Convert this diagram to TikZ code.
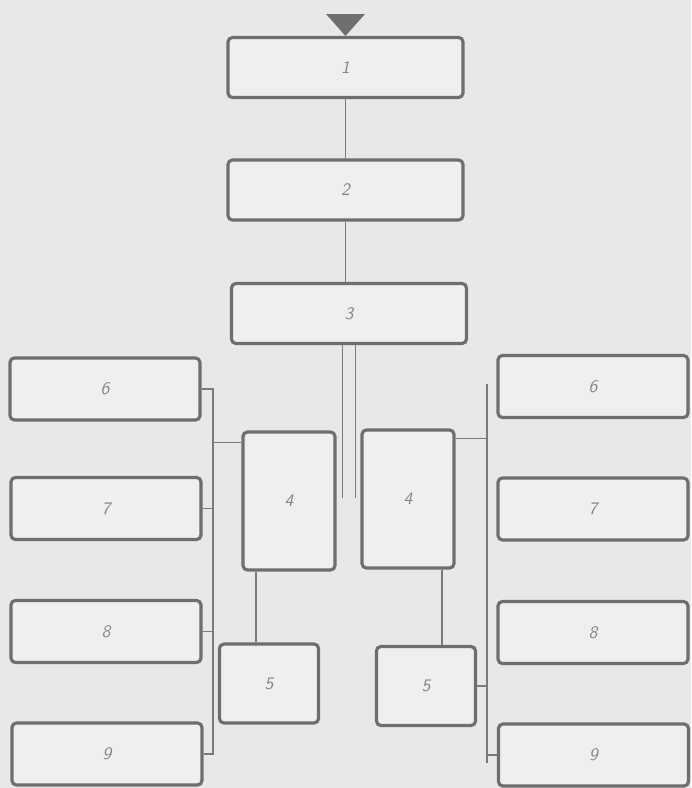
\documentclass[tikz,border=0pt]{standalone}
\usepackage{tikz}
\usetikzlibrary{positioning,calc}
\definecolor{frame}{HTML}{6E6E6E}
\definecolor{paper}{HTML}{E8E8E8}
\definecolor{wire}{HTML}{7A7A7A}
\definecolor{digit}{HTML}{858585}

\begin{document}
\begin{tikzpicture}[x=0.02cm,y=-0.02cm,
    every node/.style={font=\sffamily\itshape,text=digit},
    blk/.style={draw=frame,line width=1.8pt,rounded corners=2.5pt,fill=paper!70!white,inner sep=0pt},
    wide/.style={blk,minimum width=4.7cm,minimum height=1.2cm},
    side/.style={blk,minimum width=3.8cm,minimum height=1.24cm},
    tall/.style={blk,minimum width=1.84cm,minimum height=2.76cm},
    small/.style={blk,minimum width=1.98cm,minimum height=1.58cm},
    wire/.style={draw=wire,line width=1pt}]
    \fill[paper] (0,0) rectangle (691,788);
    \useasboundingbox (0,0) rectangle (691,788);
    % central column
    \node[wide] (b1) at (345.5,67.5) {1};
    \node[wide] (b2) at (345.5,190) {2};
    \node[wide] (b3) at (349,313.5) {3};
    \fill[frame] (326,14) -- (365,14) -- (b1.north) -- cycle;
    \draw[wire] (b1) -- (b2);
    \draw[wire] (b2.south) -- (b2.south |- b3.north);
    \coordinate (low) at (349,498);
    \draw[wire] ([xshift=-0.13cm]b3.south) -- ([xshift=-0.13cm]low);
    \draw[wire] ([xshift=0.13cm]b3.south) -- ([xshift=0.13cm]low);
    % left half
    \node[tall] (l4) at (289,501) {4};
    \node[small] (l5) at (269,683.5) {5};
    \node[side] (l6) at (105,389) {6};
    \node[side] (l7) at (106,508.5) {7};
    \node[side] (l8) at (106,631.5) {8};
    \node[side] (l9) at (107,754) {9};
    \coordinate (lbt) at (213,388);
    \coordinate (lbb) at (213,755);
    \draw[wire] (lbt) -- (lbb);
    \foreach \b in {l6,l7,l8,l9}
      \draw[wire] (\b.east) -- (\b.east -| lbt);
    \draw[wire] ([yshift=-0.24cm]l4.north west) -- ([yshift=-0.24cm]l4.north west -| lbt);
    \draw[wire] ([xshift=-0.26cm]l5.north) -- ([xshift=-0.26cm]l5.north |- l4.south);
    % right half
    \node[tall] (r4) at (408,499) {4};
    \node[small] (r5) at (426,686) {5};
    \node[side] (r6) at (593,386.5) {6};
    \node[side] (r7) at (593,509) {7};
    \node[side] (r8) at (593,632.5) {8};
    \node[side] (r9) at (593.5,755) {9};
    \coordinate (rbt) at (487,384);
    \coordinate (rbb) at (487,763);
    \draw[wire] (rbt) -- (rbb);
    \draw[wire] ([yshift=-0.2cm]r4.north east) -- ([yshift=-0.2cm]r4.north east -| rbt);
    \draw[wire] (r5.east) -- (r5.east -| rbt);
    \draw[wire] (r9.west) -- (r9.west -| rbt);
    \draw[wire] ([xshift=0.32cm]r5.north) -- ([xshift=0.32cm]r5.north |- r4.south);
\end{tikzpicture}
\end{document}
